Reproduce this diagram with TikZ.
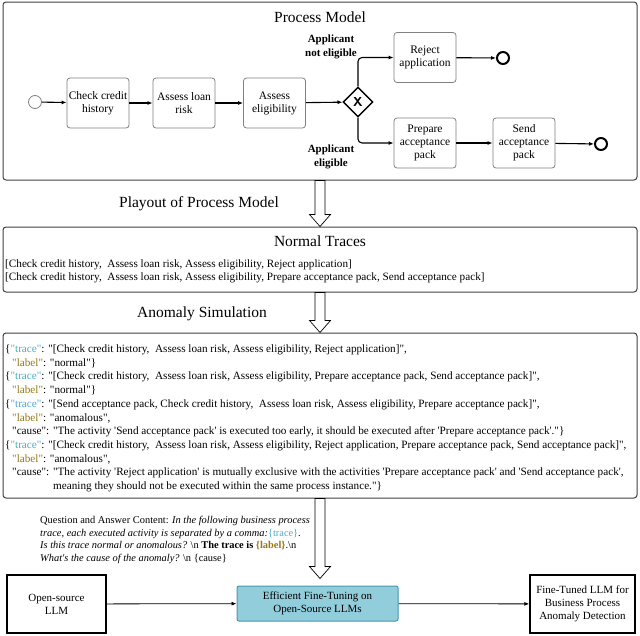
\documentclass[tikz,border=0pt]{standalone}
\usepackage{fontspec}
\setmainfont{Liberation Serif}[Ligatures=TeXOff]
\usetikzlibrary{shapes.geometric,arrows.meta,calc}
\definecolor{tracec}{RGB}{75,172,198}
\definecolor{labelc}{RGB}{150,120,20}
\definecolor{effill}{RGB}{146,205,220}
\definecolor{efdraw}{RGB}{70,150,175}
\definecolor{framec}{RGB}{64,64,64}
\newcommand\TRk{\textcolor{tracec}{"trace"}}
\newcommand\LBk{\textcolor{labelc}{"label"}}
\newcommand\DownArr[3]{%
  \path[blockarr] let \p1=(#1.south), \p2=(#2.north) in
  (\x1-5pt,\y1) -- (\x1-5pt,\y2+#3+12pt) -- (\x1-10.5pt,\y2+#3+12pt) -- (\x1,\y2+#3)
  -- (\x1+10.5pt,\y2+#3+12pt) -- (\x1+5pt,\y2+#3+12pt) -- (\x1+5pt,\y1) -- cycle;}
\tikzset{
  frame/.style={draw=framec, line width=1pt, rounded corners=3pt, inner sep=0pt},
  title/.style={anchor=base, inner sep=0pt, font=\fontsize{15.5}{18}\selectfont},
  act/.style={draw=gray, line width=0.8pt, rounded corners=3pt, fill=white, align=center,
    minimum width=62pt, minimum height=50pt, inner sep=1pt, font=\fontsize{11.5}{13}\selectfont},
  flow/.style={-{Latex[length=5pt,width=4pt]}, line width=1.1pt, black},
  gate/.style={diamond, draw, line width=1.4pt, minimum size=30pt, inner sep=0pt, fill=white,
    font=\bfseries\sffamily\fontsize{13}{13}\selectfont},
  startev/.style={circle, draw=gray, line width=0.8pt, minimum size=13pt, inner sep=0pt},
  endev/.style={circle, draw, line width=2pt, minimum size=12pt, inner sep=0pt},
  glabel/.style={align=center, inner sep=0pt, font=\bfseries\fontsize{11}{14}\selectfont},
  ln/.style={anchor=base west, inner sep=0pt, font=\fontsize{11.2}{13}\selectfont},
  qa/.style={anchor=base west, inner sep=0pt, font=\fontsize{10.4}{12.5}\selectfont},
  llmbox/.style={draw, line width=1.5pt, align=center, inner sep=1pt, font=\fontsize{11}{13.3}\selectfont},
  effbox/.style={draw=efdraw, line width=1pt, fill=effill, rounded corners=2pt, align=center,
    inner sep=1pt, font=\fontsize{11}{13.3}\selectfont},
  blockarr/.style={draw, fill=white, line width=0.7pt},
}
\begin{document}
\begin{tikzpicture}[x=1pt,y=-1pt]
\useasboundingbox (0,0) rectangle (640,635);
% ---------------- Process model
\node[frame, minimum width=634pt, minimum height=178pt] (pm) at (320,91) {};
\node[title] (pmt) at (320,22) {Process Model};
\node[startev] (st) at (35,102) {};
\node[act] (chk) at (98,103) {Check credit\\history};
\node[act] (loan) at (184,103) {Assess loan\\risk};
\node[act] (elig) at (274.5,103) {Assess\\eligibility};
\node[gate] (gw) at (358,102) {X};
\node[act] (rej) at (425,57.5) {Reject\\application};
\node[act] (prep) at (425,143) {Prepare\\acceptance\\pack};
\node[act] (send) at (524,143) {Send\\acceptance\\pack};
\node[endev] (e1) at (503,58) {};
\node[endev] (e2) at (601,144) {};
\node[glabel] (gl1) at (331,47) {Applicant\\not eligible};
\node[glabel] (gl2) at (331,157) {Applicant\\eligible};
\draw[flow] (st) -- (chk);
\draw[flow] (chk) -- (loan);
\draw[flow] (loan) -- (elig);
\draw[flow] (elig) -- (gw);
\draw[flow, rounded corners=4pt] (gw.north) |- (rej.west);
\draw[flow, rounded corners=4pt] (gw.south) |- (prep.west);
\draw[flow] (rej) -- (e1);
\draw[flow] (prep) -- (send);
\draw[flow] (send) -- (e2);
% ---------------- Normal traces
\node[title] (play) at (199,207) {Playout of Process Model};
\node[frame, minimum width=634pt, minimum height=65pt] (nt) at (320,259.5) {};
\node[title] (ntt) at (320,246) {Normal Traces};
\node[ln] (n1) at (5,267.5) {[Check credit history, \ Assess loan risk, Assess eligibility, Reject application]};
\node[ln] (n2) at (5,280.5) {[Check credit history, \ Assess loan risk, Assess eligibility, Prepare acceptance pack, Send acceptance pack]};
\DownArr{pm}{nt}{0pt}
% ---------------- Anomaly simulation
\node[title] (ast) at (202,317) {Anomaly Simulation};
\node[frame, minimum width=634pt, minimum height=165pt] (as) at (320,415.5) {};
\DownArr{nt}{as}{0pt}
\node[ln] (a1) at (5,352.5) {\{\TRk: "[Check credit history, \ Assess loan risk, Assess eligibility, Reject application]",};
\node[ln] (a2) at (12,366.2) {\LBk: "normal"\}};
\node[ln] (a3) at (5,379.9) {\{\TRk: "[Check credit history, \ Assess loan risk, Assess eligibility, Prepare acceptance pack, Send acceptance pack]",};
\node[ln] (a4) at (12,393.6) {\LBk: "normal"\}};
\node[ln] (a5) at (5,407.3) {\{\TRk: "[Send acceptance pack, Check credit history, \ Assess loan risk, Assess eligibility, Prepare acceptance pack]",};
\node[ln] (a6) at (12,421) {\LBk: "anomalous",};
\node[ln] (a7) at (12,434.7) {"cause": "The activity 'Send acceptance pack' is executed too early, it should be executed after 'Prepare acceptance pack'."\}};
\node[ln] (a8) at (5,448.4) {\{\TRk: "[Check credit history, \ Assess loan risk, Assess eligibility, Reject application, Prepare acceptance pack, Send acceptance pack]",};
\node[ln] (a9) at (12,462.1) {\LBk: "anomalous",};
\node[ln] (a10) at (12,475.8) {"cause": "The activity 'Reject application' is mutually exclusive with the activities 'Prepare acceptance pack' and 'Send acceptance pack',};
\node[ln] (a11) at (53,489.5) {meaning they should not be executed within the same process instance."\}};
% ---------------- Q&A and fine-tuning
\node[qa] (q1) at (40,523.5) {Question and Answer Content: \textit{In the following business process}};
\node[qa] (q2) at (40,536) {\textit{trace, each executed activity is separated by a comma:}\textcolor{tracec}{\{trace\}}.};
\node[qa] (q3) at (40,548.5) {\textit{Is this trace normal or anomalous?} \textbackslash n \textbf{The trace is \textcolor{labelc}{\{label\}}}.\textbackslash n};
\node[qa] (q4) at (40,561) {\textit{What's the cause of the anomaly?} \textbackslash n \{cause\}};
\node[llmbox, minimum width=99pt, minimum height=58pt] (os) at (56.5,604) {Open-source\\LLM};
\node[effbox, minimum width=161pt, minimum height=35pt] (ef) at (317.5,603.5) {Efficient Fine-Tuning on\\Open-Source LLMs};
\node[llmbox, minimum width=105pt, minimum height=58pt] (ft) at (582.5,604) {Fine-Tuned LLM for\\Business Process\\Anomaly Detection};
\DownArr{as}{ef}{7pt}
\draw[-{Latex[length=5pt,width=4pt]}, line width=0.8pt] (os) -- (ef);
\draw[-{Latex[length=5pt,width=4pt]}, line width=0.8pt] (ef) -- (ft);
\end{tikzpicture}
\end{document}
